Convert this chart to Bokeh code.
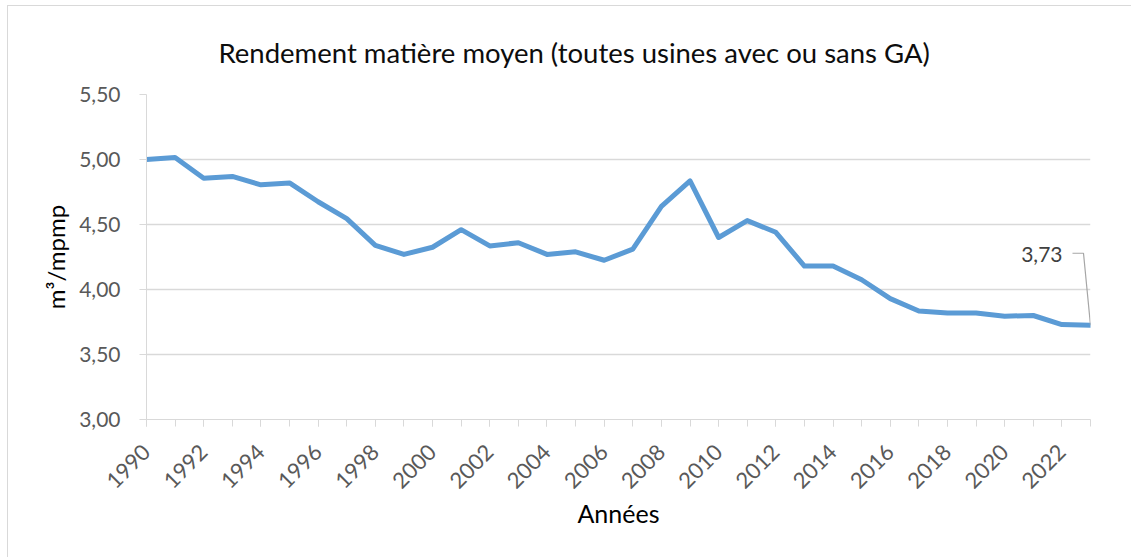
import math
from bokeh.plotting import figure
from bokeh.models import Range1d, FixedTicker, CustomJSTickFormatter, Label, Title
from bokeh.embed import file_html
from bokeh.resources import INLINE

# ---- data ----
years = list(range(1990, 2024))
values = [5.00, 5.015, 4.855, 4.87, 4.805, 4.82, 4.675, 4.545, 4.34, 4.27,
          4.325, 4.46, 4.335, 4.36, 4.27, 4.29, 4.225, 4.31, 4.64, 4.835,
          4.40, 4.53, 4.44, 4.18, 4.18, 4.075, 3.93, 3.835, 3.82, 3.82,
          3.795, 3.80, 3.73, 3.725]
last_label = "3,73"
y_ticks = [3.0, 3.5, 4.0, 4.5, 5.0, 5.5]
x_label_ticks = list(range(1990, 2023, 2))
title_text = "Rendement matière moyen (toutes usines avec ou sans GA)"
x_title = "Années"
y_title = "m³/mpmp"

# ---- style ----
FONT = "Lato"
GRID = "#d9d9d9"
TICK_TXT = "#595959"
LINE_COLOR = "#5b9bd5"
W, H = 1124, 552
ML, MR, MT, MB = 138, 42, 88, 139

p = figure(width=W, height=H, output_backend="svg", toolbar_location=None,
           x_range=Range1d(years[0], years[-1]), y_range=Range1d(y_ticks[0], y_ticks[-1]),
           min_border_left=ML, min_border_right=MR, min_border_top=MT, min_border_bottom=MB)
p.styles = {"margin-left": "7px", "margin-top": "5px",
            "border-left": "1px solid #d9d9d9", "border-top": "1px solid #d9d9d9"}
p.outline_line_color = None
p.background_fill_color = "white"
p.border_fill_color = "white"

t = Title(text=title_text, align="left", text_font=FONT, text_font_size="27.5px",
          text_font_style="normal", text_color="#0d0d0d", offset=72, standoff=52)
p.add_layout(t, "above")

# x axis
xa = p.xaxis[0]
xa.ticker = FixedTicker(ticks=x_label_ticks, minor_ticks=years)
xa.axis_line_color = GRID
xa.major_tick_line_color = GRID
xa.minor_tick_line_color = GRID
xa.major_tick_out = 7
xa.major_tick_in = 0
xa.minor_tick_out = 7
xa.minor_tick_in = 0
xa.major_label_orientation = math.pi / 4
xa.major_label_text_font = FONT
xa.major_label_text_font_size = "22px"
xa.major_label_text_color = TICK_TXT
xa.major_label_standoff = 22
xa.axis_label = x_title
xa.axis_label_text_font = FONT
xa.axis_label_text_font_size = "25px"
xa.axis_label_text_font_style = "normal"
xa.axis_label_text_color = "#000000"
xa.axis_label_standoff = 0

# y axis
ya = p.yaxis[0]
ya.ticker = FixedTicker(ticks=y_ticks)
ya.formatter = CustomJSTickFormatter(code="return tick.toFixed(2).replace('.', ',');")
ya.axis_line_color = GRID
ya.major_tick_line_color = GRID
ya.minor_tick_line_color = None
ya.major_tick_out = 7
ya.major_tick_in = 0
ya.major_label_text_font = FONT
ya.major_label_text_font_size = "21px"
ya.major_label_text_color = TICK_TXT
ya.major_label_standoff = 19
ya.axis_label = y_title
ya.axis_label_text_font = FONT
ya.axis_label_text_font_size = "24px"
ya.axis_label_text_font_style = "normal"
ya.axis_label_text_color = "#000000"
ya.axis_label_standoff = 6

p.xgrid.grid_line_color = None
p.ygrid.grid_line_color = GRID
p.ygrid.grid_line_width = 1.5

p.line(years, values, line_color=LINE_COLOR, line_width=5,
       line_join="round", line_cap="round")

# data label with leader line for the last point
px_per_x = (W - ML - MR) / (years[-1] - years[0])
px_per_y = (H - MT - MB) / (y_ticks[-1] - y_ticks[0])
LBL_DX, LBL_DY = -28, 71        # label offset in pixels
ELB_DX, ELB_DY = -7, 72         # elbow offset in pixels
END_DX = -18                    # leader line start offset
lx, ly = years[-1], values[-1]
p.line([lx + END_DX / px_per_x, lx + ELB_DX / px_per_x, lx],
       [ly + ELB_DY / px_per_y, ly + ELB_DY / px_per_y, ly],
       line_color="#a6a6a6", line_width=1.2)
p.add_layout(Label(x=lx, y=ly, x_offset=LBL_DX, y_offset=LBL_DY, text=last_label,
                   text_font=FONT, text_font_size="21px", text_color="#404040",
                   text_align="right", text_baseline="middle"))

open("out.html", "w").write(file_html(p, INLINE))
